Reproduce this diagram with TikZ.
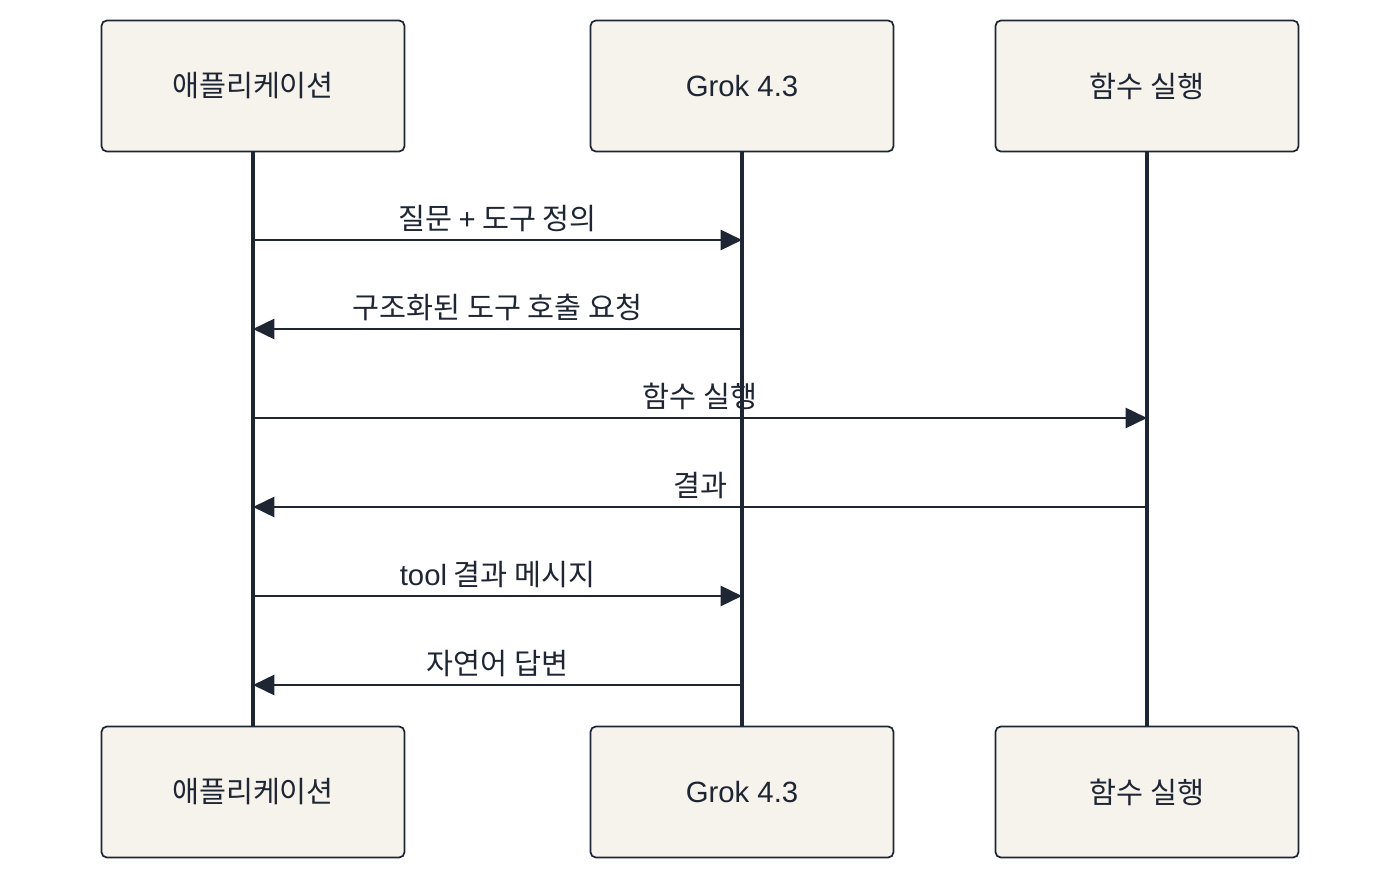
\documentclass[tikz,border=0pt]{standalone}
\usepackage{fontspec}
\setmainfont{Noto Sans CJK KR}
\newfontfamily\lat{Liberation Sans}
\usepackage{xcolor}
\usetikzlibrary{arrows.meta, positioning}
\definecolor{boxfill}{HTML}{F6F2EC}
\definecolor{ink}{HTML}{1F2633}
\tikzset{
  actor/.style={draw=ink, fill=boxfill, rounded corners=4pt, line width=1.3pt,
    minimum width=303*0.75pt, minimum height=131*0.75pt, font=\fontsize{22}{26}\selectfont, text=ink},
  life/.style={draw=ink, line width=2.4pt},
  msg/.style={draw=ink, line width=2pt, -{Triangle[length=16pt,width=15pt]}},
  lbl/.style={font=\fontsize{22}{26}\selectfont, text=ink, above=2pt}
}
\begin{document}
\begin{tikzpicture}[x=0.75pt, y=-0.75pt]
    \useasboundingbox (0,0) rectangle (1400,880);
    \node[actor] (appT) at (253,86) {애플리케이션};
    \node[actor] (grokT) at (742,86) {\lat Grok 4.3};
    \node[actor] (funcT) at (1147,86) {함수 실행};
    \node[actor] (appB) at (253,792) {애플리케이션};
    \node[actor] (grokB) at (742,792) {\lat Grok 4.3};
    \node[actor] (funcB) at (1147,792) {함수 실행};

    \draw[life] (appT) -- (appB);
    \draw[life] (grokT) -- (grokB);
    \draw[life] (funcT) -- (funcB);

    % messages
    \coordinate (a1) at (253,240); \coordinate (g1) at (742,240);
    \coordinate (a2) at (253,329); \coordinate (g2) at (742,329);
    \coordinate (a3) at (253,418); \coordinate (f3) at (1147,418);
    \coordinate (a4) at (253,507); \coordinate (f4) at (1147,507);
    \coordinate (a5) at (253,596); \coordinate (g5) at (742,596);
    \coordinate (a6) at (253,685); \coordinate (g6) at (742,685);

    \draw[msg] (a1) -- node[lbl] {질문 {\lat +} 도구 정의} (g1);
    \draw[msg] (g2) -- node[lbl] {구조화된 도구 호출 요청} (a2);
    \draw[msg] (a3) -- node[lbl] {함수 실행} (f3);
    \draw[msg] (f4) -- node[lbl] {결과} (a4);
    \draw[msg] (a5) -- node[lbl] {{\lat tool} 결과 메시지} (g5);
    \draw[msg] (g6) -- node[lbl] {자연어 답변} (a6);
\end{tikzpicture}
\end{document}
